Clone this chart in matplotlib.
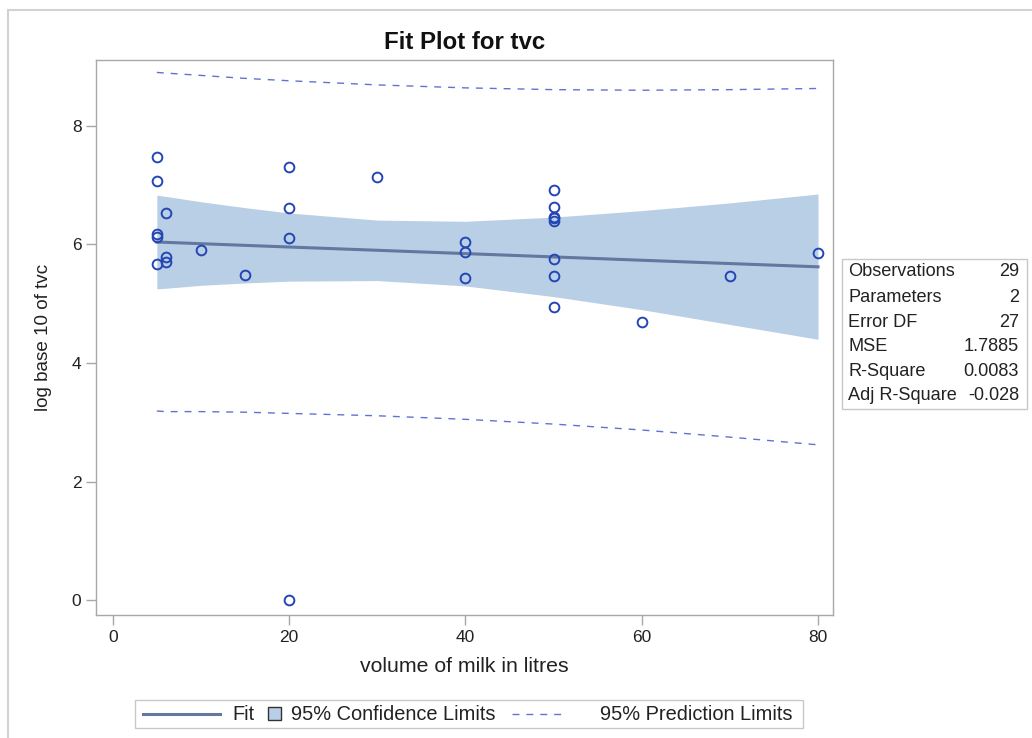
import matplotlib
matplotlib.use("Agg")
import matplotlib.pyplot as plt
from matplotlib.lines import Line2D
from matplotlib.patches import Rectangle

plt.rcParams['font.family'] = ['Liberation Sans', 'DejaVu Sans']

# observed data
obs_x = [5, 5, 5, 5, 5, 6, 6, 6, 10, 15, 20, 20, 20, 20, 30,
         40, 40, 40, 50, 50, 50, 50, 50, 50, 50, 50, 60, 70, 80]
obs_y = [7.48, 7.07, 6.17, 6.12, 5.67, 6.53, 5.79, 5.70, 5.91, 5.49,
         7.30, 6.62, 6.11, 0.00, 7.14, 6.04, 5.87, 5.43,
         6.91, 6.63, 6.47, 6.44, 6.40, 5.75, 5.46, 4.95, 4.69, 5.46, 5.85]

# fit, confidence and prediction limits (read at distinct x values)
grid_x = [5, 6, 10, 15, 20, 30, 40, 50, 60, 70, 80]
fit_y = [6.04, 6.035, 6.012, 5.984, 5.956, 5.901, 5.845, 5.789, 5.733, 5.677, 5.622]
cl_upper = [6.83, 6.81, 6.72, 6.62, 6.53, 6.41, 6.39, 6.46, 6.57, 6.70, 6.85]
cl_lower = [5.25, 5.26, 5.31, 5.35, 5.38, 5.39, 5.30, 5.12, 4.90, 4.65, 4.40]
pl_upper = [8.90, 8.89, 8.85, 8.80, 8.76, 8.69, 8.64, 8.61, 8.60, 8.61, 8.63]
pl_lower = [3.19, 3.18, 3.18, 3.17, 3.15, 3.11, 3.05, 2.97, 2.87, 2.75, 2.62]

x_ticks = [0, 20, 40, 60, 80]
y_ticks = [0, 2, 4, 6, 8]

stat_labels = ["Observations", "Parameters", "Error DF", "MSE", "R-Square", "Adj R-Square"]
stat_values = ["29", "2", "27", "1.7885", "0.0083", "-0.028"]

legend_labels = ["Fit", "95% Confidence Limits", "95% Prediction Limits"]

W, H = 1032, 738
fig = plt.figure(figsize=(W / 100, H / 100), dpi=100)


def fx(px):
    return px / W


def fy(py):
    return 1 - py / H


# outer light frame
fig.add_artist(Line2D([fx(8), fx(8)], [0, fy(9.5)], transform=fig.transFigure,
                      color='#d2d2d2', lw=1.5))
fig.add_artist(Line2D([fx(8), 1], [fy(9.5), fy(9.5)], transform=fig.transFigure,
                      color='#d2d2d2', lw=1.5))

ax_l, ax_r, ax_t, ax_b = 96, 833, 60, 615
ax = fig.add_axes([fx(ax_l), fy(ax_b), (ax_r - ax_l) / W, (ax_b - ax_t) / H])

band_col = '#b9cfe6'
fit_col = '#63779f'
pt_col = '#2446b4'
pl_col = '#6272d2'
txt_col = '#222222'

ax.fill_between(grid_x, cl_lower, cl_upper, color=band_col, lw=0, zorder=1)
ax.plot(grid_x, fit_y, color=fit_col, lw=2.2, zorder=2)
ax.plot(grid_x, pl_upper, color=pl_col, lw=1.0, ls=(0, (5, 5)), zorder=2)
ax.plot(grid_x, pl_lower, color=pl_col, lw=1.0, ls=(0, (5, 5)), zorder=2)
ax.plot(obs_x, obs_y, ls='none', marker='o', ms=7.0, mfc='none', mec=pt_col, mew=1.4, zorder=3)

ax.set_xlim(-1.9, 81.7)
ax.set_ylim(-0.25, 9.11)
ax.set_xticks(x_ticks)
ax.set_yticks(y_ticks)
for s in ax.spines.values():
    s.set_color('#a8a8a8')
    s.set_linewidth(1.0)
ax.tick_params(colors='#a8a8a8', labelcolor=txt_col, labelsize=12.5, length=7, width=1.0)

ax.set_xlabel("volume of milk in litres", fontsize=15.3, color=txt_col, labelpad=9)
ax.set_ylabel("log base 10 of tvc", fontsize=13.6, color=txt_col, labelpad=14)
ax.set_title("Fit Plot for tvc", fontsize=17.3, fontweight='bold', color='#111111', pad=8)

# stats table
tb_l, tb_r, tb_t, tb_b = 842, 1027, 259, 409
fig.add_artist(Rectangle((fx(tb_l), fy(tb_b)), (tb_r - tb_l) / W, (tb_b - tb_t) / H,
                         transform=fig.transFigure, fill=False, ec='#c8c8c8', lw=1.0))
row_y = [272, 297, 322, 347, 371, 395]
for lab, val, yy in zip(stat_labels, stat_values, row_y):
    fig.text(fx(848), fy(yy), lab, fontsize=13.1, color=txt_col, va='center', ha='left')
    fig.text(fx(1019), fy(yy), val, fontsize=13.1, color=txt_col, va='center', ha='right')

# legend (drawn manually to match SAS layout)
lg_y = 715
fig.add_artist(Rectangle((fx(135), fy(728)), (803 - 135) / W, (728 - 700) / H,
                         transform=fig.transFigure, fill=False, ec='#c8c8c8', lw=1.0))
fig.add_artist(Line2D([fx(143), fx(220)], [fy(714), fy(714)], transform=fig.transFigure,
                      color=fit_col, lw=2.2))
fig.text(fx(232), fy(lg_y), legend_labels[0], fontsize=14.4, color=txt_col, va='center', ha='left')
fig.add_artist(Rectangle((fx(268), fy(720)), 13 / W, 13 / H, transform=fig.transFigure,
                         fc=band_col, ec='#333333', lw=1.0))
fig.text(fx(291), fy(lg_y), legend_labels[1], fontsize=14.4, color=txt_col, va='center', ha='left')
fig.add_artist(Line2D([fx(512), fx(566)], [fy(714), fy(714)], transform=fig.transFigure,
                      color=pl_col, lw=1.0, ls=(0, (5, 5))))
fig.text(fx(600), fy(lg_y), legend_labels[2], fontsize=14.4, color=txt_col, va='center', ha='left')

fig.savefig("out.png", dpi=100)
